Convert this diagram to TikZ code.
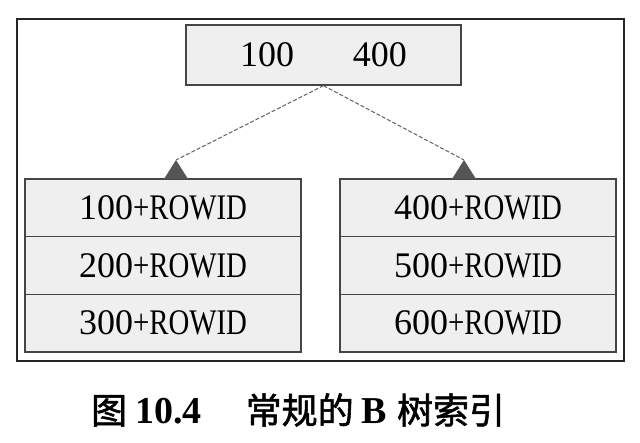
\documentclass[tikz,border=0pt]{standalone}
\usepackage{fontspec}
\setmainfont{Liberation Serif}
\newfontfamily\rowfont{Liberation Serif}[FakeStretch=0.8]
\newfontfamily\cjkb{Noto Sans CJK SC}[FakeBold=1.5]
\definecolor{boxfill}{HTML}{EFEFEF}
\definecolor{boxline}{HTML}{454545}
\definecolor{dashcol}{HTML}{606060}
\definecolor{tricol}{HTML}{555555}
\tikzset{
  rowbox/.style={draw=boxline, fill=boxfill, line width=1.3pt, minimum width=276pt,
    minimum height=57.7pt, inner sep=0pt, font=\fontsize{36}{36}\selectfont},
  topbox/.style={draw=boxline, fill=boxfill, line width=1.3pt, minimum width=275pt,
    minimum height=60pt, inner sep=0pt, font=\fontsize{36}{36}\selectfont},
  frame/.style={draw=black!85, line width=2pt},
  link/.style={draw=dashcol, line width=1pt, dash pattern=on 4pt off 2pt},
  marker/.style={fill=tricol}
}
\newcommand{\rw}[1]{#1{\rowfont +ROWID}}
\begin{document}
\begin{tikzpicture}[x=1pt,y=-1pt]
\useasboundingbox (0,0) rectangle (640,442);
\fill[white] (0,0) rectangle (640,442);
\draw[frame] (17,19) rectangle (624,361);
\node[topbox] (top) at (323.5,55) {100\hspace{59pt}400};
\node[rowbox] (l1) at (163,207.8) {\rw{100}};
\node[rowbox] (l2) at (163,265.5) {\rw{200}};
\node[rowbox] (l3) at (163,323.2) {\rw{300}};
\node[rowbox] (r1) at (478,207.8) {\rw{400}};
\node[rowbox] (r2) at (478,265.5) {\rw{500}};
\node[rowbox] (r3) at (478,323.2) {\rw{600}};
\coordinate (ta) at (176,160);
\coordinate (tb) at (464,160);
\fill[marker] (ta) -- ++(12,19) -- ++(-24,0) -- cycle;
\fill[marker] (tb) -- ++(12,19) -- ++(-24,0) -- cycle;
\draw[link] (top.south) -- (ta);
\draw[link] (top.south) -- (tb);
\node[anchor=west, inner sep=0pt] (cap) at (91,410)
  {{\fontsize{36}{36}\selectfont\cjkb 图}\hspace{8pt}{\fontsize{38}{38}\selectfont\bfseries 10.4}\hspace{44pt}{\fontsize{36}{36}\selectfont\cjkb 常规的}\hspace{8pt}{\fontsize{38}{38}\selectfont\bfseries B}\hspace{10pt}{\fontsize{36}{36}\selectfont\cjkb 树索引}};
\end{tikzpicture}
\end{document}
